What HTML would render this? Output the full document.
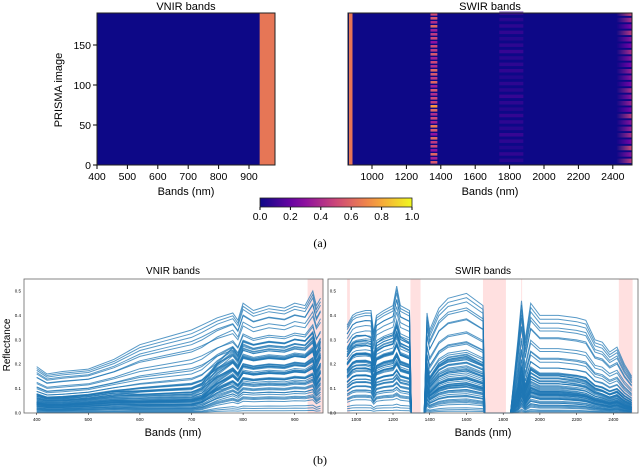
<!DOCTYPE html>
<html><head><meta charset="utf-8"><style>
body{margin:0;background:#fff;width:640px;height:467px;overflow:hidden}
svg{display:block;font-family:"Liberation Sans",sans-serif}
</style></head><body>
<svg id="fig" width="640" height="467" viewBox="0 0 640 467">
<g id="topPanel"></g>
<g id="bottomPanel"></g>
</svg>
<script>
// ---------- data ----------
const vnirTicks=[400,500,600,700,800,900];
const swirTicks=[1000,1200,1400,1600,1800,2000,2200,2400];
const rowTicks=[0,50,100,150];
const cbarTicks=[0.0,0.2,0.4,0.6,0.8,1.0];
const reflTicks=[0.0,0.1,0.2,0.3,0.4,0.5];
const stripe1350=[0.55,0.35,0.6,0.3,0.5,0.45,0.6,0.3,0.55,0.65,0.35,0.5,0.4,0.6,0.75,0.45,0.5,0.4,0.55,0.35,0.6,0.45,0.55,0.6,0.4,0.5,0.35,0.55,0.45,0.5,0.3,0.5,0.45,0.35,0.6,0.4,0.55,0.5];
const stripe1800=[0.1,0.13,0.08,0.12,0.15,0.1,0.12,0.14,0.09,0.12,0.15,0.1,0.12,0.08,0.13,0.12,0.1,0.15,0.12,0.09,0.13,0.12,0.1,0.12];
const stripeEdge=[0.45,0.3,0.5,0.25,0.4,0.35,0.3,0.45,0.25,0.35,0.3,0.4,0.25,0.3,0.35,0.25,0.3,0.4,0.25,0.3,0.45,0.25,0.4,0.5];
const saturatedValue=0.65;
const vnirW=[400,420,450,500,550,600,650,700,720,750,780,790,800,820,850,880,900,920,935,942,950];
const vnirSoil=[0.19,0.16,0.17,0.18,0.22,0.28,0.31,0.34,0.36,0.39,0.41,0.38,0.45,0.42,0.44,0.43,0.45,0.44,0.50,0.44,0.47];
const vnirVeg=[0.05,0.04,0.04,0.05,0.06,0.05,0.05,0.05,0.07,0.16,0.22,0.19,0.24,0.23,0.24,0.235,0.25,0.245,0.27,0.19,0.24];
const swirW=[950,980,1000,1050,1080,1095,1110,1150,1200,1220,1240,1290,1300,1370,1385,1400,1450,1500,1600,1690,1700,1840,1880,1900,1920,1950,2000,2100,2200,2250,2300,2340,2380,2420,2460,2500];
const swirSoil=[0.36,0.40,0.41,0.42,0.42,0.33,0.40,0.42,0.44,0.52,0.44,0.42,0,0,0.41,0.34,0.43,0.47,0.49,0.44,0,0,0.30,0.46,0.30,0.45,0.40,0.40,0.39,0.38,0.30,0.29,0.25,0.27,0.20,0.15];
const swirVeg=[0.22,0.26,0.27,0.27,0.26,0.18,0.24,0.26,0.27,0.30,0.26,0.24,0,0,0.14,0.10,0.15,0.17,0.18,0.15,0,0,0.05,0.13,0.06,0.12,0.10,0.10,0.09,0.08,0.06,0.05,0.04,0.05,0.03,0.02];
const soilWeight=[1.0,0.95,0.9,0.85,0.8,0.75,0.7,0.62,0.55,0.5,0.45,0.4,0.36,0.32,0.28,0.25,0.22,0.2,0.18,0.16,0.14,0.12,0.1,0.09,0.08,0.07,0.06,0.05,0.04,0.03,0.02,0.02,0.01,0,0,0,0,0,0,0,
 0.3,0.27,0.24,0.21,0.19,0.17,0.15,0.13,0.11,0.1,0.09,0.08,0.07,0.06,0.05,0.04,0.03,0.02,0.01,0,0.12,0.1,0.08,0.06,0.05,0.04,0.03,0.02];
const vegWeight=[0,0.05,0.1,0.1,0.2,0.1,0.3,0.2,0.4,0.3,0.5,0.6,0.5,0.7,0.6,0.8,0.7,0.9,1.0,0.8,1.2,0.9,1.1,1.3,0.7,1.0,0.6,0.8,0.5,0.9,0.4,0.6,0.3,0.5,0.25,0.4,0.15,0.3,0.1,0.05,
 0.5,0.6,0.45,0.7,0.55,0.65,0.5,0.75,0.6,0.8,0.55,0.7,0.85,0.6,0.75,0.9,0.65,0.8,0.7,0.85,0.35,0.45,0.55,0.4,0.5,0.35,0.45,0.3];

const NS="http://www.w3.org/2000/svg";
function mk(p,t,a){const e=document.createElementNS(NS,t);for(const k in a)e.setAttribute(k,a[k]);p.appendChild(e);return e;}
const plasmaStops=[[0,13,8,135],[0.25,126,3,168],[0.5,204,71,120],[0.75,248,149,64],[1,240,249,33]];
function plasma(v){v=Math.max(0,Math.min(1,v));for(let i=1;i<plasmaStops.length;i++){const a=plasmaStops[i-1],b=plasmaStops[i];if(v<=b[0]){const t=(v-a[0])/(b[0]-a[0]);return `rgb(${Math.round(a[1]+t*(b[1]-a[1]))},${Math.round(a[2]+t*(b[2]-a[2]))},${Math.round(a[3]+t*(b[3]-a[3]))})`;}}return 'rgb(240,249,33)';}

const topG=document.getElementById('topPanel');
const xV=w=>97+(w-400)*0.304, xS=w=>372+(w-1000)*0.172, yR=r=>165-r*0.8;
function txt(p,x,y,s,size,anchor,name,extra){const t=mk(p,'text',Object.assign({x:x,y:y,'font-size':size,'text-anchor':anchor||'middle',fill:'#000'},extra||{}));t.textContent=s;return t;}
let g=mk(topG,'g',{});


mk(g,'rect',{x:97,y:13,width:178,height:152,fill:plasma(0)});
mk(g,'rect',{x:xV(935),y:13,width:275-xV(935),height:152,fill:plasma(saturatedValue)});
mk(g,'rect',{x:97,y:13,width:178,height:152,fill:'none',stroke:'#222','stroke-width':1});
g=mk(topG,'g',{});


mk(g,'rect',{x:348,y:13,width:284,height:152,fill:plasma(0)});
mk(g,'rect',{x:349,y:13,width:3.5,height:152,fill:plasma(saturatedValue)});
const gd=mk(g,'defs',{});const eg=mk(gd,'linearGradient',{id:'edgeFade',x1:0,x2:1,y1:0,y2:0});
mk(eg,'stop',{offset:0,'stop-color':'#fff','stop-opacity':0});mk(eg,'stop',{offset:1,'stop-color':'#fff','stop-opacity':1});
const em=mk(gd,'mask',{id:'edgeMask'});mk(em,'rect',{x:xS(2420),y:13,width:632-xS(2420),height:152,fill:'url(#edgeFade)'});
stripe1350.forEach((v,i)=>{const r=mk(g,'rect',{x:xS(1340),y:yR((i+1)*5),width:xS(1380)-xS(1340),height:2.6,fill:plasma(v)});

});
stripe1800.forEach((v,i)=>{const r=mk(g,'rect',{x:xS(1740),y:yR((i+1)*8),width:xS(1880)-xS(1740),height:3.5,fill:plasma(v),opacity:0.6});

});
const edgeG=mk(g,'g',{mask:'url(#edgeMask)'});
stripeEdge.forEach((v,i)=>{const r=mk(edgeG,'rect',{x:xS(2420),y:yR((i+1)*8),width:632-xS(2420),height:4.5,fill:plasma(v)});

});
mk(g,'rect',{x:348,y:13,width:284,height:152,fill:'none',stroke:'#222','stroke-width':1});
txt(topG,186,10,'VNIR bands',11,'middle','vnir-heatmap-title');
txt(topG,490,10,'SWIR bands',11,'middle','swir-heatmap-title');
vnirTicks.forEach(w=>{mk(topG,'line',{x1:xV(w),x2:xV(w),y1:165,y2:169,stroke:'#000'});txt(topG,xV(w),180,String(w),10.5,'middle','vnir-x-tick');});
swirTicks.forEach(w=>{mk(topG,'line',{x1:xS(w),x2:xS(w),y1:165,y2:169,stroke:'#000'});txt(topG,xS(w),180,String(w),10.5,'middle','swir-x-tick');});
rowTicks.forEach(r=>{mk(topG,'line',{x1:93,x2:97,y1:yR(r),y2:yR(r),stroke:'#000'});txt(topG,91,yR(r)+4,String(r),10.5,'end','y-tick');});
txt(topG,186,195,'Bands (nm)',11,'middle','vnir-x-axis-title');
txt(topG,490,195,'Bands (nm)',11,'middle','swir-x-axis-title');
txt(topG,62,90,'PRISMA image',11,'middle','y-axis-title',{transform:'rotate(-90 62 90)'});
const cb=mk(topG,'g',{});


const defs=mk(cb,'defs',{});const lg=mk(defs,'linearGradient',{id:'pl',x1:0,x2:1,y1:0,y2:0});
for(let i=0;i<=10;i++)mk(lg,'stop',{offset:i/10,'stop-color':plasma(i/10)});
mk(cb,'rect',{x:260,y:198,width:152,height:9,fill:'url(#pl)',stroke:'#222','stroke-width':0.8});
cbarTicks.forEach(v=>{const x=260+v*152;mk(cb,'line',{x1:x,x2:x,y1:207,y2:210,stroke:'#000'});txt(cb,x,220,v.toFixed(1),10.5,'middle','colorbar-tick');});
txt(topG,320,247,'(a)',12,'middle','caption-a',{'font-family':'Liberation Serif, serif'});

const bot=document.getElementById('bottomPanel');
const bxV=w=>36.7+(w-400)*0.516, bxS=w=>356.3+(w-1000)*0.1836, by=r=>413-r*244;
[[925,955]].forEach(s=>{const r=mk(bot,'rect',{x:bxV(s[0]),y:279,width:bxV(s[1])-bxV(s[0]),height:134,fill:'#fdd',opacity:0.9});

});
[[950,965],[1295,1350],[1690,1815],[1898,1903],[2430,2505]].forEach(s=>{const r=mk(bot,'rect',{x:bxS(s[0]),y:279,width:bxS(s[1])-bxS(s[0]),height:134,fill:'#fdd',opacity:0.9});

});
const lines=mk(bot,'g',{fill:'none',stroke:'#1f77b4','stroke-width':1,'stroke-opacity':0.75});


soilWeight.forEach((a,i)=>{const b=vegWeight[i];
 let d='';vnirW.forEach((w,j)=>{const v=Math.min(0.52,a*vnirSoil[j]+b*vnirVeg[j]*0.8);d+=(j?'L':'M')+bxV(w).toFixed(1)+' '+by(v).toFixed(1);});
 const p=mk(lines,'path',{d:d});
 
 
 let e='';swirW.forEach((w,j)=>{const v=Math.min(0.53,a*swirSoil[j]+b*swirVeg[j]*0.8);e+=(j?'L':'M')+bxS(w).toFixed(1)+' '+by(v).toFixed(1);});
 const q=mk(lines,'path',{d:e});
 
 
});
mk(bot,'rect',{x:24,y:279,width:299,height:134,fill:'none',stroke:'#666','stroke-width':0.8});
mk(bot,'rect',{x:328,y:279,width:310,height:134,fill:'none',stroke:'#666','stroke-width':0.8});
vnirTicks.forEach(w=>{mk(bot,'line',{x1:bxV(w),x2:bxV(w),y1:413,y2:415,stroke:'#000','stroke-width':0.5});txt(bot,bxV(w),421,String(w),4.5,'middle','vnir-spectra-x-tick');});
swirTicks.forEach(w=>{mk(bot,'line',{x1:bxS(w),x2:bxS(w),y1:413,y2:415,stroke:'#000','stroke-width':0.5});txt(bot,bxS(w),421,String(w),4.5,'middle','swir-spectra-x-tick');});
reflTicks.forEach(r=>{txt(bot,21,by(r)+1.5,r.toFixed(1),4.5,'end','vnir-refl-tick');txt(bot,336,by(r)+1.5,r.toFixed(1),4.5,'end','swir-refl-tick');});
txt(bot,173,274,'VNIR bands',10,'middle','vnir-spectra-title');
txt(bot,483,274,'SWIR bands',10,'middle','swir-spectra-title');
txt(bot,173,436,'Bands (nm)',11,'middle','vnir-spectra-x-title');
txt(bot,483,436,'Bands (nm)',11,'middle','swir-spectra-x-title');
txt(bot,10,345,'Reflectance',10,'middle','reflectance-axis-title',{transform:'rotate(-90 10 345)'});
txt(bot,320,464,'(b)',12,'middle','caption-b',{'font-family':'Liberation Serif, serif'});
</script>
</body></html>
